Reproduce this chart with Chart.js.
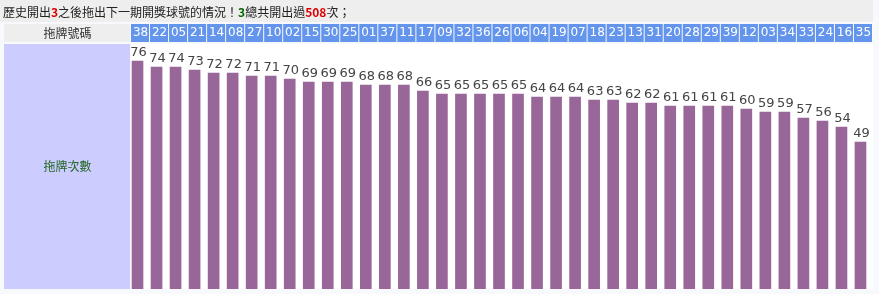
<!DOCTYPE html>
<html>
<head>
<meta charset="utf-8">
<script src="https://cdn.jsdelivr.net/npm/chart.js@4/dist/chart.umd.min.js"></script>
<style>
  html, body { margin: 0; padding: 0; background: #f7f9fd; }
  #chart { display: block; }
</style>
</head>
<body>
<canvas id="chart" width="879" height="294"></canvas>
<script>
// 拖牌號碼 y 次數
const balls = ['38','22','05','21','14','08','27','10','02','15','30','25','01','37','11','17','09','32','36','26',
               '06','04','19','07','18','23','13','31','20','28','29','39','12','03','34','33','24','16','35'];
const counts = [76,74,74,73,72,72,71,71,70,69,69,69,68,68,68,66,65,65,65,65,
                65,64,64,64,63,63,62,62,61,61,61,61,60,59,59,57,56,54,49];

const drawNumber = 3;
const totalTimes = 508;

const CJK = '"Noto Sans CJK TC", "Noto Sans CJK SC", sans-serif';
const NUM = '"DejaVu Sans", Verdana, sans-serif';

// Dibuja la "tabla" de fondo: título, cabecera y columna izquierda
const tablePlugin = {
    id: 'tabla',
    beforeDraw(chart) {
        const ctx = chart.ctx;
        const area = chart.chartArea;
        const x = chart.scales.x;
        const cellW = x.width / balls.length;
        const left = area.left + 3;
        const right = left + cellW * balls.length;

        ctx.save();
        // fila del título
        ctx.fillStyle = '#eeeeee';
        ctx.fillRect(0, 0, right, 22);

        // celda cabecera izquierda
        ctx.fillRect(4, 24, left - 5, 18);
        // celda lavanda
        ctx.fillStyle = '#ccccff';
        ctx.fillRect(4, 44, left - 5, area.bottom - 44);
        // zona blanca de barras
        ctx.fillStyle = '#ffffff';
        ctx.fillRect(left, 44, right - left, area.bottom - 44);

        // celdas azules
        ctx.fillStyle = '#6495ed';
        for (let i = 0; i < balls.length; i++) {
            ctx.fillRect(left + i * cellW, 24, cellW - 1, 18);
        }

        // título
        ctx.textBaseline = 'alphabetic';
        let tx = 3;
        const parts = [
            ['歷史開出', '#222222', false],
            [String(drawNumber), '#dd0000', true],
            ['之後拖出下一期開獎球號的情況！', '#222222', false],
            [String(drawNumber), '#006600', true],
            ['總共開出過', '#222222', false],
            [String(totalTimes), '#dd0000', true],
            ['次；', '#222222', false]
        ];
        parts.forEach(([t, c, b]) => {
            ctx.font = (b ? 'bold ' : '') + '12px ' + CJK;
            ctx.fillStyle = c;
            ctx.fillText(t, tx, 17);
            tx += ctx.measureText(t).width;
        });

        ctx.textAlign = 'center';
        ctx.font = '12px ' + CJK;
        ctx.fillStyle = '#333333';
        ctx.fillText('拖牌號碼', (left + 4) / 2, 38);
        ctx.fillStyle = '#226622';
        ctx.fillText('拖牌次數', (left + 4) / 2, 171);
        ctx.restore();
    },
    afterDatasetsDraw(chart) {
        const ctx = chart.ctx;
        const meta = chart.getDatasetMeta(0);
        ctx.save();
        ctx.font = '13px ' + NUM;
        ctx.fillStyle = '#444444';
        ctx.textAlign = 'center';
        ctx.textBaseline = 'bottom';
        meta.data.forEach((bar, i) => {
            ctx.fillText(String(counts[i]), bar.x + 1, bar.y - 2);
        });
        ctx.restore();
    }
};

const chart = new Chart(document.getElementById('chart'), {
    type: 'bar',
    data: {
        labels: balls,
        datasets: [{
            data: counts,
            backgroundColor: '#996699',
            borderWidth: 0,
            barThickness: 11
        }]
    },
    options: {
        responsive: false,
        animation: false,
        events: [],
        layout: {
            padding: { left: 128, right: 9, top: 24, bottom: 5 }
        },
        scales: {
            x: {
                position: 'top',
                offset: true,
                grid: { display: false, drawTicks: false },
                border: { display: false },
                ticks: {
                    color: '#ffffff',
                    font: { size: 12, family: NUM },
                    padding: 4,
                    labelOffset: 3,
                    maxRotation: 0,
                    autoSkip: false
                },
                afterFit(scale) { scale.height = 20; }
            },
            y: {
                display: false,
                min: 0,
                max: 245 / 3
            }
        },
        plugins: {
            legend: { display: false },
            tooltip: { enabled: false }
        }
    },
    plugins: [tablePlugin]
});
</script>
</body>
</html>
